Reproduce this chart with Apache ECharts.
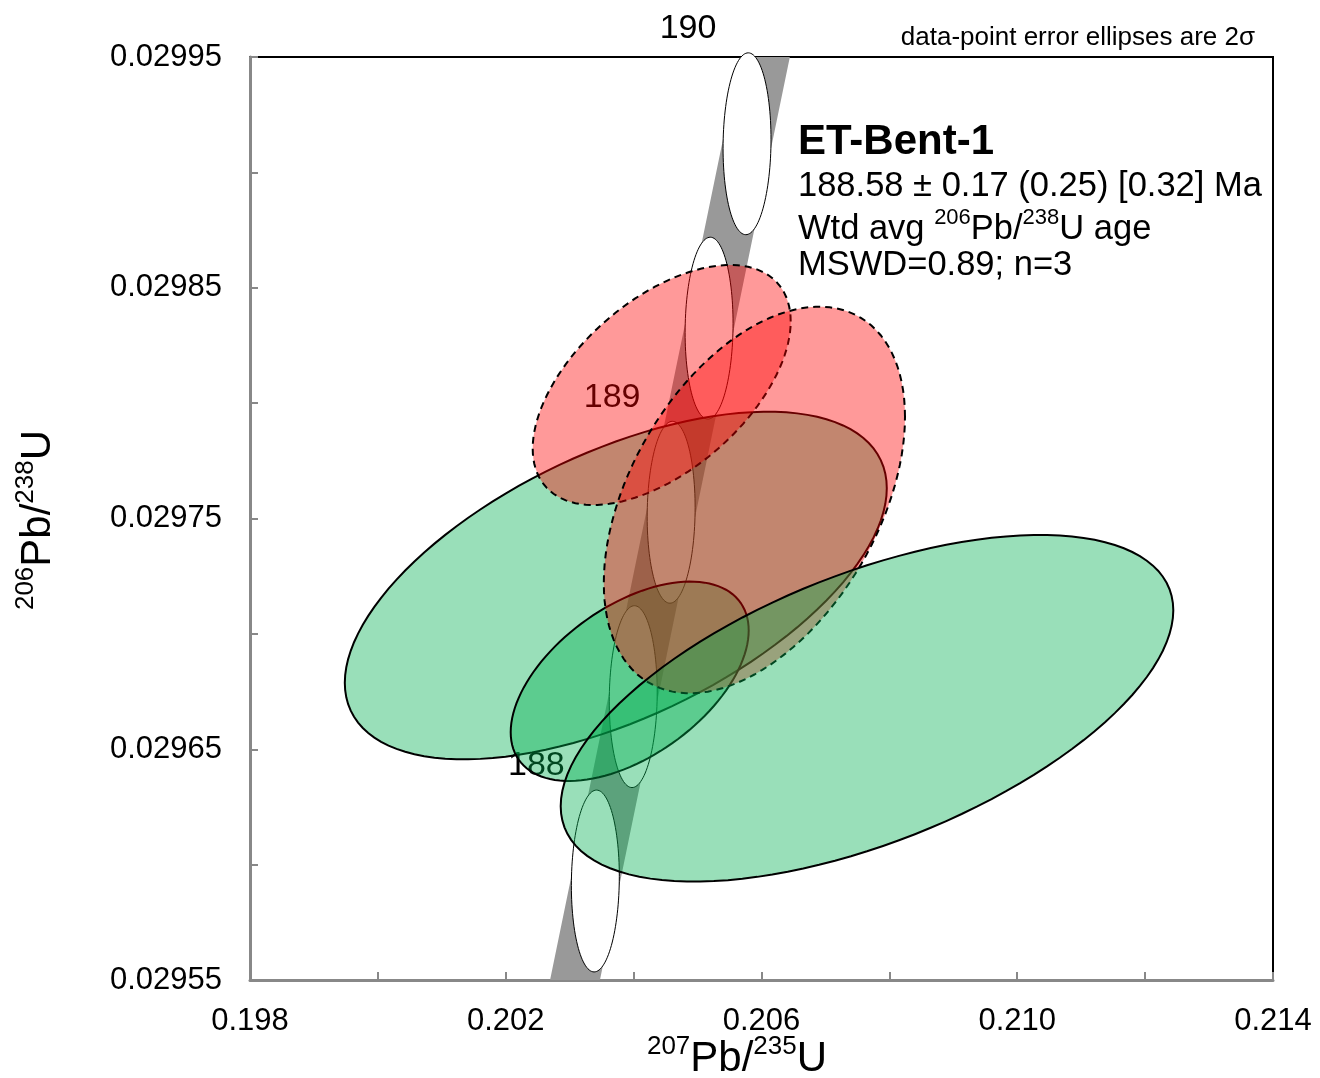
<!DOCTYPE html>
<html><head><meta charset="utf-8">
<script src="https://cdn.jsdelivr.net/npm/echarts@6/dist/echarts.min.js"></script>
<style>html,body{margin:0;padding:0;background:#fff}#c{width:1320px;height:1078px}</style>
</head><body><div id="c"></div>
<script>
// ---- Concordia (ages in Ma) and ratio values ----
const concAges = [187.5, 188, 188.5, 189, 189.5, 190, 190.5];
const concX = [0.2028087, 0.2034012, 0.2039939, 0.2045869, 0.2051802, 0.2057738, 0.2063678]; // 207Pb/235U
const concY = [0.0295130, 0.0295929, 0.0296728, 0.0297527, 0.0298325, 0.0299124, 0.0299923]; // 206Pb/238U
const bandHalfWidthX = 0.00039;            // decay-constant band half width (207/235)
const markerAges = [188, 188.5, 189, 189.5, 190];
const markerErrX = 0.000375, markerErrY = 0.0000394, markerRho = 0.05;
const labelAges = [188, 189, 190];

// ---- Data-point error ellipses (drawing order) ----
const ellX    = [0.2037212, 0.2039386, 0.2044391, 0.2058889, 0.2076500];
const ellY    = [0.02972096, 0.02967945, 0.02980785, 0.02975802, 0.02966775];
const ellErrX = [0.0042385, 0.0018612, 0.0020176, 0.0023554, 0.0047906];
const ellErrY = [0.00007532, 0.00004321, 0.00005200, 0.00008377, 0.00007510];
const ellRho  = [0.56, 0.51, 0.53, 0.43, 0.565];
const ellKind = ['green', 'green', 'red', 'red', 'green'];

// ---- Axis ticks ----
const xMin = 0.198, xMax = 0.214, xStep = 0.002;
const yMin = 0.02955, yMax = 0.02995, yStep = 0.00005;

// ---- Text ----
const sampleName = 'ET-Bent-1';
const ageLine = '188.58 ± 0.17 (0.25) [0.32] Ma';
const mswdLine = 'MSWD=0.89; n=3';
const noteLine = 'data-point error ellipses are 2σ';

const FONT = '"Liberation Sans", Arial, sans-serif';

function ellipsePts(api, cx, cy, sx, sy, rho) {
  const pts = [];
  const k = Math.sqrt(1 - rho * rho);
  for (let i = 0; i < 120; i++) {
    const t = i / 120 * Math.PI * 2;
    const c = Math.cos(t), s = Math.sin(t);
    pts.push(api.coord([cx + sx * c, cy + sy * (rho * c + k * s)]));
  }
  return pts;
}

const chart = echarts.init(document.getElementById('c'), null, {renderer: 'canvas'});

const supRich = (main, sup, L, ls) => ({
  n: {fontSize: main, fontFamily: FONT, color: '#000', lineHeight: L, verticalAlign: 'bottom'},
  s: {fontSize: sup, fontFamily: FONT, color: '#000', lineHeight: ls, verticalAlign: 'top'}
});

const option = {
  animation: false,
  grid: {left: 250, top: 57, right: 47, bottom: 98, show: true, borderColor: '#000', borderWidth: 2, backgroundColor: 'transparent'},
  xAxis: {
    type: 'value', min: xMin, max: xMax, interval: xStep,
    axisLine: {show: true, onZero: false, lineStyle: {color: '#888', width: 3}},
    axisTick: {show: true, inside: true, length: 8, lineStyle: {color: '#888', width: 2}},
    splitLine: {show: false},
    axisLabel: {
      fontSize: 31, fontFamily: FONT, color: '#000', margin: 26, showMinLabel: true, showMaxLabel: true,
      formatter: v => (Math.round(v / xStep) % 2 === 1 ? v.toFixed(3) : '')
    }
  },
  yAxis: {
    type: 'value', min: yMin, max: yMax, interval: yStep,
    axisLine: {show: true, onZero: false, lineStyle: {color: '#888', width: 3}},
    axisTick: {show: true, inside: true, length: 8, lineStyle: {color: '#888', width: 2}},
    splitLine: {show: false},
    axisLabel: {
      fontSize: 31, fontFamily: FONT, color: '#000', margin: 28, showMinLabel: true, showMaxLabel: true,
      formatter: v => (Math.round(v / yStep) % 2 === 1 ? v.toFixed(5) : '')
    }
  },
  series: [
    { // decay-constant band
      type: 'custom', z: 1, clip: true, silent: true,
      data: [[concX[3], concY[3]]],
      renderItem: (params, api) => {
        const pts = [];
        for (let i = 0; i < concX.length; i++) pts.push(api.coord([concX[i] - bandHalfWidthX, concY[i]]));
        for (let i = concX.length - 1; i >= 0; i--) pts.push(api.coord([concX[i] + bandHalfWidthX, concY[i]]));
        return {type: 'polygon', shape: {points: pts}, style: {fill: '#999999', stroke: null}};
      }
    },
    { // age labels
      type: 'custom', z: 2, clip: false, silent: true,
      data: labelAges.map(a => { const i = concAges.indexOf(a); return [concX[i], concY[i], a]; }),
      renderItem: (params, api) => {
        const p = api.coord([api.value(0), api.value(1)]);
        return {type: 'text', x: p[0] - 59, y: p[1] - 115,
          style: {text: String(api.value(2)), fontSize: 34, fontFamily: FONT, fill: '#000', align: 'center', verticalAlign: 'middle'}};
      }
    },
    { // age marker ellipses
      type: 'custom', z: 3, clip: false, silent: true,
      data: markerAges.map(a => { const i = concAges.indexOf(a); return [concX[i], concY[i]]; }),
      renderItem: (params, api) => {
        const pts = ellipsePts(api, api.value(0), api.value(1), markerErrX, markerErrY, markerRho);
        return {type: 'polygon', shape: {points: pts}, style: {fill: '#ffffff', stroke: '#000', lineWidth: 1}};
      }
    },
    { // data-point ellipses
      type: 'custom', z: 4, clip: false, silent: true,
      data: ellX.map((x, i) => [x, ellY[i]]),
      renderItem: (params, api) => {
        const i = params.dataIndex;
        const pts = ellipsePts(api, ellX[i], ellY[i], ellErrX[i], ellErrY[i], ellRho[i]);
        const red = ellKind[i] === 'red';
        return {type: 'polygon', shape: {points: pts},
          style: {fill: red ? 'rgba(255,0,0,0.4)' : 'rgba(0,176,80,0.4)', stroke: '#000', lineWidth: 2, lineDash: red ? [7, 5] : null}};
      }
    }
  ],
  graphic: [
    {type: 'text', x: 1255, y: 38, style: {text: noteLine, fontSize: 26, fontFamily: FONT, fill: '#000', align: 'right', verticalAlign: 'middle'}},
    {type: 'text', x: 798, y: 142, style: {text: sampleName, fontSize: 42, fontWeight: 'bold', fontFamily: FONT, fill: '#000', align: 'left', verticalAlign: 'middle'}},
    {type: 'text', x: 798, y: 186, style: {text: ageLine, fontSize: 34.5, fontFamily: FONT, fill: '#000', align: 'left', verticalAlign: 'middle'}},
    {type: 'text', x: 798, y: 227, style: {text: '{n|Wtd avg }{s|206}{n|Pb/}{s|238}{n|U age}', rich: supRich(34.5, 22, 40, 24), align: 'left', verticalAlign: 'middle'}},
    {type: 'text', x: 798, y: 265, style: {text: mswdLine, fontSize: 34.5, fontFamily: FONT, fill: '#000', align: 'left', verticalAlign: 'middle'}},
    {type: 'text', x: 737, y: 1057, style: {text: '{s|207}{n|Pb/}{s|235}{n|U}', rich: supRich(42, 26, 46, 28), align: 'center', verticalAlign: 'middle'}},
    {type: 'text', x: 36, y: 520, rotation: Math.PI / 2, style: {text: '{s|206}{n|Pb/}{s|238}{n|U}', rich: supRich(42, 26, 46, 28), align: 'center', verticalAlign: 'middle'}}
  ]
};
chart.setOption(option);
</script></body></html>
